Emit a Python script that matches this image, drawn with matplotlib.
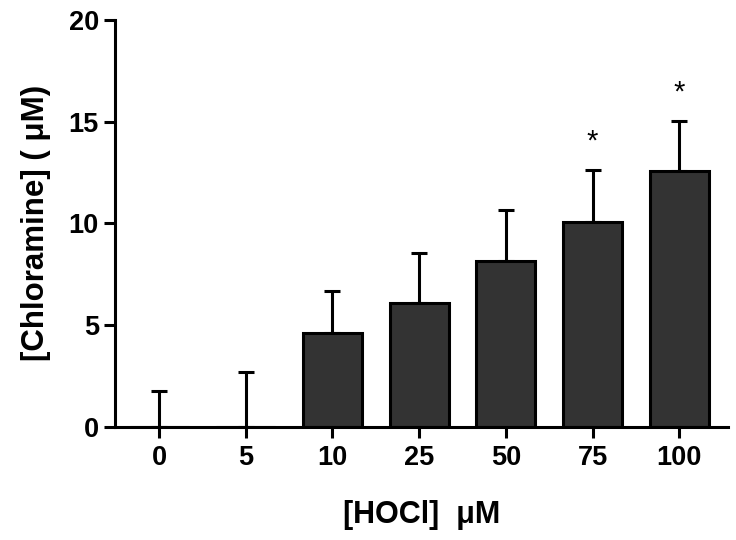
import numpy as np
import matplotlib.pyplot as plt

plt.rcParams['font.family'] = ['Liberation Sans', 'DejaVu Sans']

# data
doses = ['0', '5', '10', '25', '50', '75', '100']
chloramine = [0.0, 0.0, 4.62, 6.1, 8.16, 10.05, 12.59]
sem = [1.75, 2.7, 2.07, 2.45, 2.49, 2.57, 2.44]
signif = [False, False, False, False, False, True, True]

fig = plt.figure(figsize=(7.36, 5.4), dpi=100)
ax = fig.add_axes([0.156, 0.21, 0.833, 0.753])

x = np.arange(len(doses))
ax.bar(x, chloramine, width=0.68, color='#333333', edgecolor='black',
       linewidth=2.2, zorder=2)
ax.errorbar(x, chloramine, yerr=[np.zeros(len(sem)), sem], fmt='none',
            ecolor='black', elinewidth=2.2, capsize=6, capthick=2.2, zorder=1)

for i in range(len(doses)):
    if signif[i]:
        ax.text(x[i], chloramine[i] + sem[i] + 0.7, '*', ha='center', va='bottom',
                fontsize=21, color='black')

ax.set_xlim(-0.51, 6.56)
ax.set_ylim(0, 20)
ax.set_yticks([0, 5, 10, 15, 20])
ax.set_xticks(x)
ax.set_xticklabels(doses)

for s in ['top', 'right']:
    ax.spines[s].set_visible(False)
for s in ['left', 'bottom']:
    ax.spines[s].set_linewidth(2.2)
ax.spines['left'].set_bounds(0, 20)

ax.tick_params(axis='both', direction='out', length=8, width=2.2,
               labelsize=19.5)
ax.tick_params(axis='y', pad=3.5)
ax.tick_params(axis='x', pad=5)
for lab in ax.get_xticklabels() + ax.get_yticklabels():
    lab.set_fontweight('bold')

ax.set_ylabel('[Chloramine] ( \u03bcM)', fontsize=22.5, fontweight='bold', labelpad=13)
ax.set_xlabel('[HOCl]  \u03bcM', fontsize=22, fontweight='bold', labelpad=21)

fig.savefig('out.png', dpi=100)
